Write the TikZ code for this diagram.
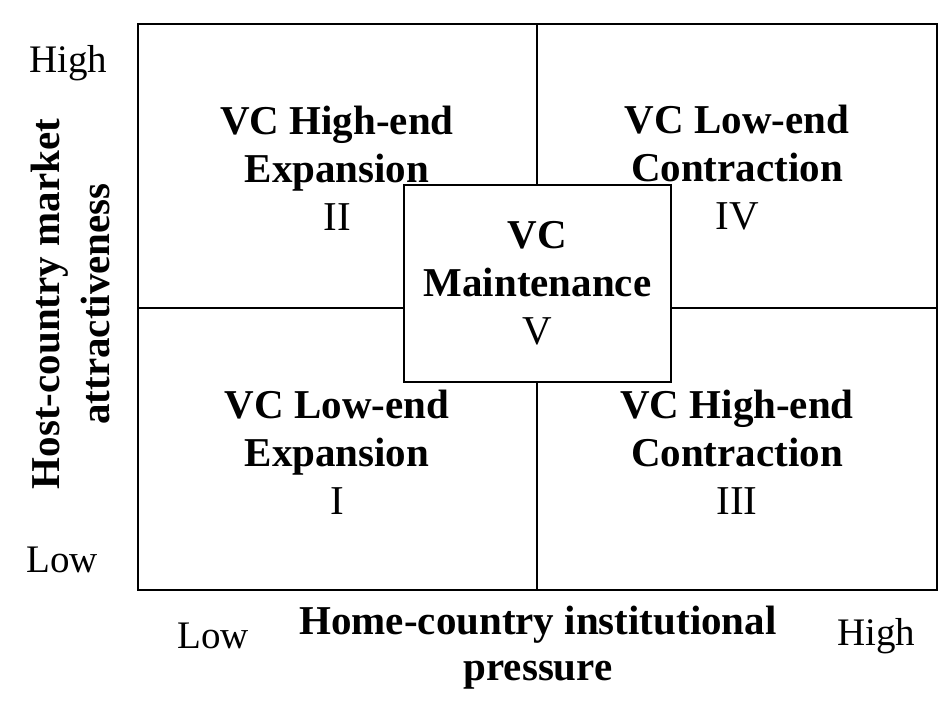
\documentclass[tikz,border=0pt]{standalone}
\usepackage{fontspec}
\setmainfont{Liberation Serif}
\usetikzlibrary{positioning}

\begin{document}
\begin{tikzpicture}[x=0.5pt, y=-0.5pt,
  quad/.style={font=\fontsize{20.5}{24}\selectfont, align=center},
  axis/.style={font=\fontsize{20.5}{23}\selectfont\bfseries, align=center},
  tick/.style={font=\fontsize{19.5}{22}\selectfont},
]
  \useasboundingbox (0,0) rectangle (943,720);
  % frame and quadrant lines
  \draw[line width=1pt] (138,24) rectangle (937,590);
  \coordinate (top) at (537,24);
  \coordinate (bot) at (537,590);
  \coordinate (lft) at (138,308);
  \coordinate (rgt) at (937,308);
  \draw[line width=1pt] (top) -- (bot);
  \draw[line width=1pt] (lft) -- (rgt);
  % quadrants
  \foreach \px/\py/\ta/\tb/\num/\nm in {337/168/VC High-end/Expansion/II/q2,
      737/168/VC Low-end/Contraction/IV/q4,
      337/452/VC Low-end/Expansion/I/q1,
      737/452/VC High-end/Contraction/III/q3}{
    \node[quad] (\nm) at (\px,\py) {\textbf{\ta}\\\textbf{\tb}\\\num};
  }
  \node[quad, draw, line width=1pt, fill=white, inner sep=0pt,
        minimum width=133.5pt, minimum height=98.5pt] (mid) at (537.5,283.5)
        {\textbf{VC}\\\textbf{Maintenance}\\V};
  % axes
  \node[tick] (yhi) at (68,63) {High};
  \node[tick] (ylo) at (62,560) {Low};
  \node[tick] (xlo) at (213,636) {Low};
  \node[tick] (xhi) at (876,636) {High};
  \node[axis, rotate=90, font=\fontsize{20.5}{25}\selectfont\bfseries]
        (ylab) at (70,304) {Host-country market\\attractiveness};
  \node[axis] (xlab) at (538,648) {Home-country institutional\\pressure};
\end{tikzpicture}
\end{document}
